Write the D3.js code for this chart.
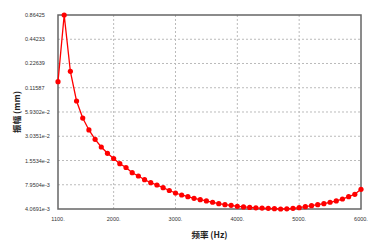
<!DOCTYPE html>
<html><head><meta charset="utf-8">
<script src="https://cdn.jsdelivr.net/npm/d3@7"></script>
<style>body{margin:0;background:#fff}svg{display:block}</style>
</head><body><svg id="c" width="376" height="251"></svg>
<script>
const freqs = d3.range(1100, 6001, 100);
const amps = [0.1370,0.86425,0.1825,0.0804,0.0502,0.0361,0.0279,0.02256,0.01895,0.01642,
0.01422,0.01280,0.01109,0.01012,0.00914,0.00841,0.00790,0.00733,0.00678,0.00633,
0.00599,0.00572,0.00547,0.00526,0.00508,0.00490,0.00471,0.00458,0.00451,0.00438,
0.00431,0.00425,0.00420,0.00417,0.00414,0.00411,0.0040691,0.00409,0.00415,0.00422,
0.00434,0.00446,0.00458,0.00471,0.00490,0.00508,0.00536,0.00572,0.00611,0.00701,0.0079504];
const yTicks = [4.0691e-3,7.9504e-3,1.5534e-2,3.0351e-2,5.9302e-2,0.11587,0.22639,0.44233,0.86425];
const yTickLabels = ["4.0691e-3","7.9504e-3","1.5534e-2","3.0351e-2","5.9302e-2","0.11587","0.22639","0.44233","0.86425"];
const xTicks = [1100,2000,3000,4000,5000,6000];
const xTickLabels = ["1100.","2000.","3000.","4000.","5000.","6000."];
const xTitle = "频率 (Hz)", yTitle = "振幅 (mm)";

const L=58,R=361,T=15,B=209;
const svg=d3.select("#c");
const x=d3.scaleLinear().domain([1100,6000]).range([L,R]);
const y=d3.scaleLog().domain([4.0691e-3,0.86425]).range([B,T]);

// grid
svg.append("g").selectAll("line").data(xTicks.slice(1,-1)).join("line")
 .attr("x1",d=>x(d)).attr("x2",d=>x(d)).attr("y1",T).attr("y2",B)
 .attr("stroke","#bbb").attr("stroke-width",1).attr("stroke-dasharray","2,2");
svg.append("g").selectAll("line").data(yTicks.slice(1,-1)).join("line")
 .attr("y1",d=>y(d)).attr("y2",d=>y(d)).attr("x1",L).attr("x2",R)
 .attr("stroke","#bbb").attr("stroke-width",1).attr("stroke-dasharray","2,2");

// frame
svg.append("rect").attr("x",L).attr("y",T).attr("width",R-L).attr("height",B-T)
 .attr("fill","none").attr("stroke","#666").attr("stroke-width",1.5);

// tick labels
svg.append("g").selectAll("text").data(yTicks).join("text")
 .attr("x",25).attr("y",d=>y(d)+2)
 .attr("font-family","Liberation Sans, Arial, sans-serif").attr("font-size",5.5).attr("fill","#333")
 .text((d,i)=>yTickLabels[i]);
svg.append("g").selectAll("text").data(xTicks).join("text")
 .attr("x",d=>x(d)).attr("y",221).attr("text-anchor","middle")
 .attr("font-family","Liberation Sans, Arial, sans-serif").attr("font-size",5.5).attr("fill","#333")
 .text((d,i)=>xTickLabels[i]);

// titles
svg.append("text").attr("x",(L+R)/2).attr("y",238).attr("text-anchor","middle")
 .attr("font-family","Noto Sans CJK SC, sans-serif").attr("font-weight","bold").attr("font-size",8.5).attr("fill","#222")
 .text(xTitle);
svg.append("text").attr("transform",`translate(20,${(T+B)/2}) rotate(-90)`).attr("text-anchor","middle")
 .attr("font-family","Noto Sans CJK SC, sans-serif").attr("font-weight","bold").attr("font-size",8.5).attr("fill","#222")
 .text(yTitle);

// line + markers
const data=freqs.map((f,i)=>[f,amps[i]]);
svg.append("path").datum(data).attr("fill","none").attr("stroke","#ff0000").attr("stroke-width",1.3)
 .attr("d",d3.line().x(d=>x(d[0])).y(d=>y(d[1])));
svg.append("g").selectAll("circle").data(data).join("circle")
 .attr("cx",d=>x(d[0])).attr("cy",d=>y(d[1])).attr("r",2.6).attr("fill","#ff0000");
</script></body></html>
